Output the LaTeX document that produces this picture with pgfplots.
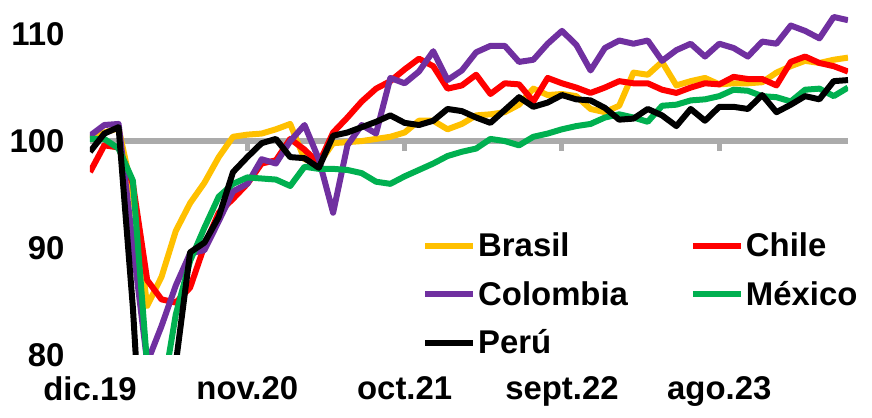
\documentclass[border=0pt]{standalone}
\usepackage{fontspec}
\setmainfont{Liberation Sans}
\usepackage{pgfplots}
\usepackage{pgfplotstable}
\pgfplotsset{compat=1.18}
\definecolor{cBr}{HTML}{FFC000}
\definecolor{cCh}{HTML}{FF0000}
\definecolor{cCo}{HTML}{7030A0}
\definecolor{cMx}{HTML}{00B050}
\definecolor{cPe}{HTML}{000000}
\definecolor{cAx}{HTML}{ABABAB}
\pgfplotstableread{
m Br Ch Co Mx Pe
0 100.3 97.1 100.5 100.2 99.0
1 100.8 99.6 101.5 100.2 100.7
2 101.2 99.4 101.6 99.3 101.3
3 95.0 96.0 90.3 96.3 84.4
4 84.6 87.0 79.3 79.0 62.0
5 87.3 85.2 82.7 75.8 66.0
6 91.6 84.9 86.5 83.8 79.2
7 94.2 86.3 89.5 88.8 89.6
8 96.1 90.2 89.8 91.9 90.5
9 98.5 93.3 92.5 94.8 92.9
10 100.4 94.6 95.3 96.0 97.1
11 100.6 96.0 96.0 96.6 98.5
12 100.7 97.9 98.3 96.5 99.8
13 101.1 98.2 97.9 96.4 100.2
14 101.6 100.2 100.0 95.8 98.5
15 98.3 99.2 101.5 97.6 98.4
16 97.9 97.9 98.3 97.4 97.5
17 99.8 100.8 93.3 97.4 100.5
18 99.9 102.2 99.6 97.3 100.8
19 100.0 103.7 101.5 97.0 101.3
20 100.2 104.9 100.7 96.2 101.8
21 100.4 105.6 105.9 96.0 102.4
22 100.8 106.7 105.4 96.7 101.7
23 101.9 107.7 106.5 97.3 101.5
24 101.9 107.0 108.4 97.9 101.9
25 101.1 104.9 105.7 98.6 103.0
26 101.6 105.2 106.6 99.0 102.8
27 102.4 106.2 108.3 99.3 102.2
28 102.5 104.4 108.9 100.2 101.7
29 102.7 105.4 108.9 100.0 102.9
30 103.4 105.3 107.4 99.6 104.1
31 104.9 103.7 107.6 100.4 103.2
32 104.3 105.9 109.1 100.7 103.6
33 104.4 105.4 110.3 101.1 104.3
34 104.2 105.0 109.0 101.4 103.9
35 103.0 104.5 106.6 101.6 103.8
36 102.7 105.0 108.7 102.2 103.1
37 103.3 105.6 109.4 102.5 102.0
38 106.4 105.4 109.1 102.2 102.1
39 106.2 105.4 109.4 101.8 103.0
40 107.4 104.8 107.5 103.3 102.4
41 105.2 104.5 108.5 103.4 101.4
42 105.6 105.0 109.1 103.8 103.0
43 105.9 105.4 107.9 103.9 101.9
44 105.3 105.3 109.1 104.2 103.2
45 105.4 106.0 108.7 104.8 103.2
46 105.4 105.8 107.9 104.7 103.0
47 105.5 105.8 109.3 104.2 104.3
48 106.4 105.2 109.1 104.1 102.7
49 107.0 107.4 110.8 103.7 103.4
50 107.5 107.9 110.3 104.8 104.2
51 107.3 107.3 109.6 104.9 103.9
52 107.6 107.0 111.6 104.2 105.6
53 107.8 106.5 111.3 105.0 105.7
}\datatab
\newcommand{\lblfont}{\bfseries\fontsize{33}{33}\selectfont}
\begin{document}
\begin{tikzpicture}
\begin{axis}[
  scale only axis, width=758bp, height=353bp,
  xmin=0, xmax=53, ymin=80, ymax=113,
  axis line style={draw=none},
  major tick length=0pt,
  xtick={0,11,22,33,44},
  xticklabels={dic.19,nov.20,oct.21,sept.22,ago.23},
  ytick={80,90,100,110},
  /pgf/number format/assume math mode=true,
  tick label style={font=\lblfont},
  xticklabel style={yshift=-18bp},
  yticklabel style={xshift=-22bp},
  legend columns=2,
  legend cell align=left,
  legend image code/.code={\draw[#1, line width=6bp] (0bp,0bp) -- (48bp,0bp);},
  legend style={draw=none, fill=none, inner sep=0pt, font=\lblfont,
    at={(0.438,0.352)}, anchor=north west,
    row sep=19bp,
    /tikz/every even column/.append style={column sep=60bp}},
]
\addplot[cAx, line width=5.5bp, forget plot] coordinates {(0,100) (53,100)};
\addplot[cAx, line width=5bp, forget plot] coordinates {(11,100) (11,99.1)};
\addplot[cAx, line width=5bp, forget plot] coordinates {(22,100) (22,99.1)};
\addplot[cAx, line width=5bp, forget plot] coordinates {(33,100) (33,99.1)};
\addplot[cAx, line width=5bp, forget plot] coordinates {(44,100) (44,99.1)};
\addplot[cBr, line width=6bp, line join=round] table[x=m, y=Br] {\datatab};
\addlegendentry{Brasil}
\addplot[cCh, line width=6bp, line join=round] table[x=m, y=Ch] {\datatab};
\addlegendentry{Chile}
\addplot[cCo, line width=6bp, line join=round] table[x=m, y=Co] {\datatab};
\addlegendentry{Colombia}
\addplot[cMx, line width=6bp, line join=round] table[x=m, y=Mx] {\datatab};
\addlegendentry{México}
\addplot[cPe, line width=6bp, line join=round] table[x=m, y=Pe] {\datatab};
\addlegendentry{Perú}
\end{axis}
\pgfresetboundingbox
\path[use as bounding box] (current axis.south west) ++(-90bp,-63bp) rectangle ++(872bp,418bp);
\end{tikzpicture}
\end{document}
